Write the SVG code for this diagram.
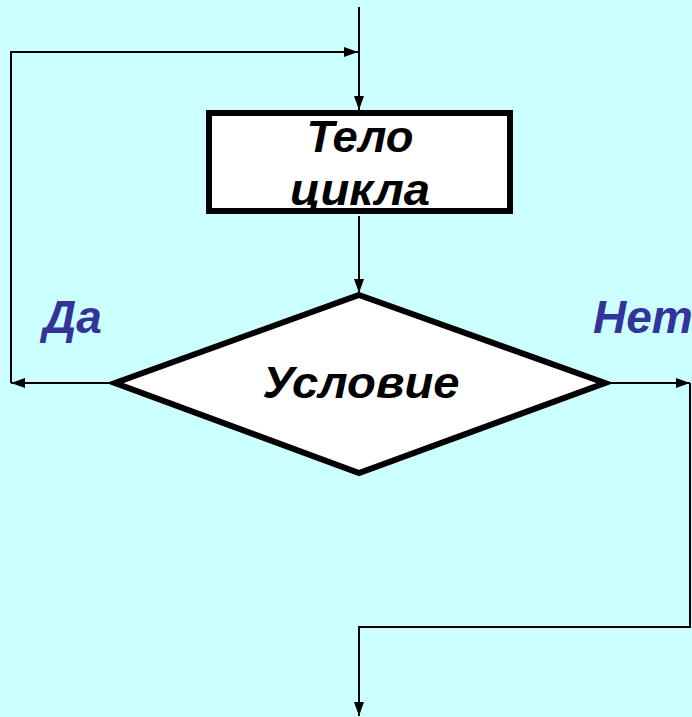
<svg xmlns="http://www.w3.org/2000/svg" width="692" height="717" viewBox="0 0 692 717">
<style>
.ln{fill:none;stroke:#000;stroke-width:2}
.blk{fill:#fff;stroke:#000;stroke-width:6}
.t{font-family:"Liberation Sans",Arial,sans-serif;font-weight:bold;font-style:italic;text-anchor:middle}
.lbl{font-family:"Liberation Sans",Arial,sans-serif;font-weight:bold;font-style:italic;fill:#333399}
</style>
<defs>
<marker id="ah" viewBox="0 0 14 10" refX="14" refY="5" markerWidth="14" markerHeight="10" markerUnits="userSpaceOnUse" orient="auto">
<path d="M0,0 L14,5 L0,10 Z" fill="#000"/>
</marker>
</defs>
<rect width="692" height="717" fill="#CCFFFF"/>
<g id="connectors">
<line class="ln" x1="359" y1="7" x2="359" y2="110" marker-end="url(#ah)"/>
<polyline class="ln" points="11,383 11,52 358,52" marker-end="url(#ah)"/>
<line class="ln" x1="359" y1="216" x2="359" y2="293" marker-end="url(#ah)"/>
<line class="ln" x1="115" y1="383" x2="11" y2="383" marker-end="url(#ah)"/>
<line class="ln" x1="605" y1="383" x2="690" y2="383" marker-end="url(#ah)"/>
<polyline class="ln" points="690,383 690,627 359,627 359,716" marker-end="url(#ah)"/>
</g>
<g id="body">
<rect class="blk" x="209" y="113" width="301" height="98"/>
<text class="t" x="360" y="152" font-size="45" textLength="107" lengthAdjust="spacingAndGlyphs">Тело</text>
<text class="t" x="360" y="205" font-size="45" textLength="140" lengthAdjust="spacingAndGlyphs">цикла</text>
</g>
<g id="cond">
<polygon class="blk" points="359,295 605,383 359,473 115,383"/>
<text class="t" x="361" y="398" font-size="44" textLength="197" lengthAdjust="spacingAndGlyphs">Условие</text>
</g>
<g id="labels">
<text class="lbl" x="43" y="333" font-size="46">Да</text>
<text class="lbl" x="593" y="333" font-size="46">Нет</text>
</g>
</svg>
